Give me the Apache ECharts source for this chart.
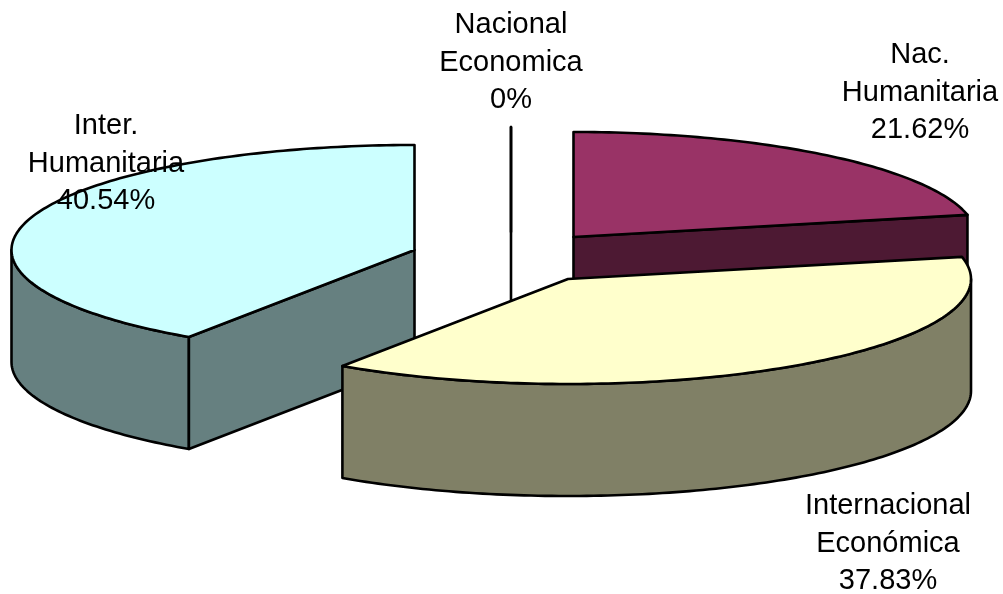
<!DOCTYPE html>
<html>
<head>
<meta charset="utf-8">
<style>html,body{margin:0;padding:0;background:#fff}#c{width:1003px;height:594px}</style>
<script src="https://cdn.jsdelivr.net/npm/echarts@6/dist/echarts.min.js"></script>
</head>
<body>
<div id="c"></div>
<script>
// Data, clockwise from 12 o'clock
var names = ['Nac.\nHumanitaria', 'Internacional\nEconómica', 'Inter.\nHumanitaria', 'Nacional\nEconomica'];
var values = [21.62, 37.83, 40.54, 0];
var topColors = ['#993366', '#FFFFCC', '#CCFFFF', '#000000'];
var sideColors = ['#4D1933', '#808066', '#668080', '#000000'];

// Layout of the 3D pie
var rx = 403, ry = 105, depth = 112;
var centers = [[573.5, 237], [568, 279], [414.5, 250], [511, 232]];
var labelAt = [[920, 92.5], [888, 543.5], [106, 163.5], [511, 62.5]];
var paintRank = [1, 3, 2, 0];
var total = values.reduce(function (a, b) { return a + b; }, 0);

function pt(c, deg, dy) {
  var t = deg * Math.PI / 180;
  return [c[0] + rx * Math.sin(t), c[1] - ry * Math.cos(t) + (dy || 0)];
}
function arc(c, a, b, dy) {
  var out = [], n = Math.max(2, Math.ceil(Math.abs(b - a)));
  for (var i = 0; i <= n; i++) out.push(pt(c, a + (b - a) * i / n, dy));
  return out;
}
function poly(points, fill, z2) {
  return {
    type: 'polygon', z2: z2, silent: true,
    shape: { points: points },
    style: { fill: fill, stroke: '#000', lineWidth: 2.6, lineJoin: 'round' }
  };
}
function renderItem(params, api) {
  var i = params.dataIndex, c = centers[i];
  var before = 0;
  for (var k = 0; k < i; k++) before += values[k];
  var a = before / total * 360, b = (before + api.value(0)) / total * 360;
  var base = paintRank[i] * 10, kids = [];
  var s = Math.max(a, 90), e = Math.min(b, 270);
  if (e > s) kids.push(poly(arc(c, s, e, 0).concat(arc(c, e, s, depth)), sideColors[i], base + 1));
  if (b > 0 && b <= 180) {
    var p = pt(c, b);
    kids.push(poly([c, p, [p[0], p[1] + depth], [c[0], c[1] + depth]], sideColors[i], base + 2));
  }
  if (a >= 180) {
    var q = pt(c, a);
    kids.push(poly([c, q, [q[0], q[1] + depth], [c[0], c[1] + depth]], sideColors[i], base + 2));
  }
  kids.push(poly([c].concat(arc(c, a, b, 0)), topColors[i], base + 3));
  kids.push({
    type: 'text', z2: 100, silent: true,
    style: {
      x: labelAt[i][0], y: labelAt[i][1],
      text: names[i] + '\n' + api.value(0) + '%',
      fill: '#000', align: 'center', verticalAlign: 'middle',
      font: '29px "Liberation Sans", Arial, sans-serif', lineHeight: 37.5
    }
  });
  return { type: 'group', children: kids };
}
var chart = echarts.init(document.getElementById('c'), null, { renderer: 'canvas' });
chart.setOption({
  animation: false,
  backgroundColor: '#fff',
  series: [{
    type: 'custom',
    coordinateSystem: 'none',
    renderItem: renderItem,
    silent: true,
    data: values.map(function (v) { return [v]; })
  }]
});
</script>
</body>
</html>
